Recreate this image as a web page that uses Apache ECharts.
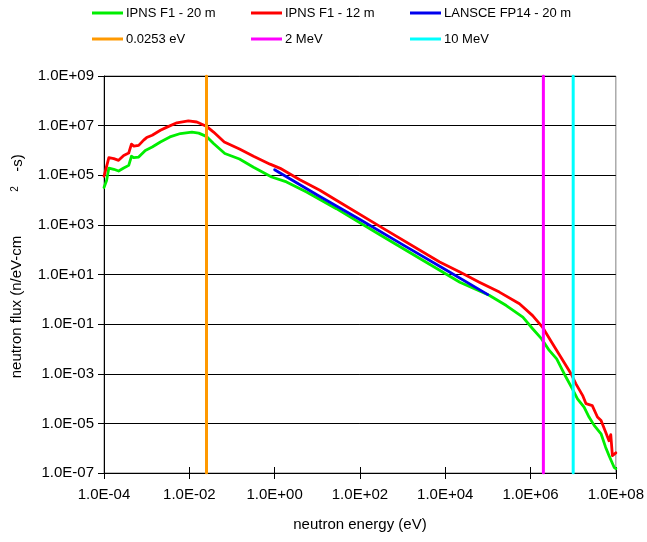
<!DOCTYPE html>
<html>
<head>
<meta charset="utf-8">
<script src="https://cdn.jsdelivr.net/npm/echarts@6/dist/echarts.min.js"></script>
<style>
html,body{margin:0;padding:0;background:#fff;}
#chart{width:647px;height:542px;}
</style>
</head>
<body>
<div id="chart"></div>
<script>
// ---- data (energy in eV, flux in n/eV-cm^2-s) ----
const seriesNames = ['IPNS F1 - 20 m', 'IPNS F1 - 12 m', 'LANSCE FP14 - 20 m', '0.0253 eV', '2 MeV', '10 MeV'];

const energyGreen = [1.0e-4, 1.15e-4, 1.3e-4, 1.7e-4, 2.2e-4, 2.9e-4, 3.8e-4, 4.4e-4, 5.0e-4, 6.5e-4, 9.3e-4, 1.35e-3, 2.1e-3, 3.5e-3, 6.2e-3, 1.15e-2, 1.66e-2, 2.5e-2, 3.7e-2, 6.8e-2, 0.15, 0.32, 0.85, 1.9, 5.6, 28, 300, 7.4e3, 2.2e4, 1.07e5, 2.7e5, 6.6e5, 1.12e6, 1.8e6, 2.75e6, 4.1e6, 6.8e6, 9.5e6, 1.26e7, 1.8e7, 2.35e7, 3.1e7, 4.5e7, 5.75e7, 6.9e7, 7.6e7, 9.1e7, 1.0e8];
const fluxGreen   = [3.2e4, 6.2e4, 1.95e5, 1.74e5, 1.48e5, 1.95e5, 2.5e5, 5.8e5, 5.1e5, 5.4e5, 1.0e6, 1.38e6, 2.2e6, 3.5e6, 4.8e6, 5.5e6, 5.0e6, 3.7e6, 1.9e6, 7.5e5, 4.5e5, 2.1e5, 8.5e4, 5.4e4, 2.1e4, 4.5e3, 390, 14.8, 4.9, 1.45, 0.56, 0.19, 0.065, 0.026, 8.7e-3, 4.0e-3, 7.2e-4, 2.5e-4, 9.8e-5, 4.5e-5, 1.8e-5, 8.3e-6, 3.8e-6, 1.1e-6, 5.1e-7, 6.0e-7, 1.7e-7, 1.5e-7];

const energyRed = [1.0e-4, 1.2e-4, 1.3e-4, 1.7e-4, 2.2e-4, 2.9e-4, 3.8e-4, 4.4e-4, 5.0e-4, 6.5e-4, 8.5e-4, 1.0e-3, 1.35e-3, 2.1e-3, 3.0e-3, 5.1e-3, 9.5e-3, 1.5e-2, 2.5e-2, 3.7e-2, 6.6e-2, 0.15, 0.32, 0.78, 1.35, 3.9, 11.5, 28, 300, 7.4e3, 2.2e4, 6.3e4, 1.86e5, 5.5e5, 1.12e6, 1.9e6, 3.1e6, 4.7e6, 8.9e6, 1.15e7, 1.66e7, 2.0e7, 2.8e7, 3.7e7, 4.5e7, 5.75e7, 6.9e7, 7.6e7, 8.3e7, 1.0e8];
const fluxRed   = [9.1e4, 3.0e5, 5.1e5, 4.7e5, 4.0e5, 6.3e5, 7.9e5, 1.8e6, 1.5e6, 1.6e6, 2.6e6, 3.3e6, 4.1e6, 6.5e6, 8.7e6, 1.3e7, 1.55e7, 1.4e7, 9.5e6, 5.5e6, 2.2e6, 1.15e6, 5.8e5, 2.8e5, 1.9e5, 6.6e4, 2.5e4, 9.8e3, 850, 32, 12.6, 4.9, 1.95, 0.66, 0.22, 0.076, 0.019, 6.0e-3, 1.0e-3, 4.0e-4, 1.35e-4, 6.2e-5, 5.2e-5, 1.8e-5, 1.3e-5, 4.5e-6, 2.0e-6, 3.5e-6, 5.0e-7, 6.5e-7];

const energyBlue = [1, 10, 100, 1e3, 1e4, 1e5];
const fluxBlue   = [1.66e5, 1.6e4, 1.65e3, 160, 16, 1.55];

const markerEnergies = [0.0253, 2e6, 1e7];
const yRange = [1e-7, 1e9];
const xRange = [1e-4, 1e8];

const colors = ['#00ee00', '#ff0000', '#0000ee', '#ff9900', '#ff00ff', '#00ffff'];

// ---- build ----
const zip = (xs, ys) => xs.map((x, i) => [x, ys[i]]);
const FONT = "'Liberation Sans', Arial, sans-serif";
function fmt(v) {
  const e = Math.round(Math.log10(v));
  const a = Math.abs(e);
  return '1.0E' + (e < 0 ? '-' : '+') + (a < 10 ? '0' : '') + a;
}

const series = [
  { name: seriesNames[0], data: zip(energyGreen, fluxGreen) },
  { name: seriesNames[1], data: zip(energyRed, fluxRed) },
  { name: seriesNames[2], data: zip(energyBlue, fluxBlue) },
  { name: seriesNames[3], data: [[markerEnergies[0], yRange[0]], [markerEnergies[0], yRange[1]]] },
  { name: seriesNames[4], data: [[markerEnergies[1], yRange[0]], [markerEnergies[1], yRange[1]]] },
  { name: seriesNames[5], data: [[markerEnergies[2], yRange[0]], [markerEnergies[2], yRange[1]]] }
].map((s, i) => ({
  name: s.name,
  type: 'line',
  data: s.data,
  symbol: 'none',
  showSymbol: false,
  silent: true,
  animation: false,
  lineStyle: { color: colors[i], width: i >= 3 ? 3 : 2.8, join: 'round', cap: 'round' },
  itemStyle: { color: colors[i] },
  z: 2 + i
}));

const legendPos = [
  [92, 6], [251, 6], [410, 6],
  [92, 32], [251, 32], [410, 32]
];
const legends = seriesNames.map((n, i) => ({
  data: [n],
  left: legendPos[i][0],
  top: legendPos[i][1],
  padding: 0,
  icon: 'rect',
  itemWidth: 31,
  itemHeight: 3,
  selectedMode: false,
  textStyle: { fontFamily: FONT, fontSize: 13, color: '#000', lineHeight: 14, padding: [0, 0, 0, -2] }
}));

const chart = echarts.init(document.getElementById('chart'), null, { renderer: 'canvas' });
chart.setOption({
  animation: false,
  backgroundColor: '#fff',
  legend: legends,
  grid: {
    left: 104, right: 30, top: 76, bottom: 69,
    show: true, borderColor: '#808080', borderWidth: 1, containLabel: false
  },
  xAxis: [{
    type: 'log', logBase: 10, min: xRange[0], max: xRange[1], interval: 2,
    name: 'neutron energy (eV)', nameLocation: 'middle', nameGap: 44,
    nameTextStyle: { fontFamily: FONT, fontSize: 15, color: '#000' },
    axisLine: { show: true, lineStyle: { color: '#000', width: 1 } },
    axisTick: { show: true, length: 6, lineStyle: { color: '#000' } },
    axisLabel: { formatter: fmt, fontFamily: FONT, fontSize: 15, color: '#000', margin: 14, showMinLabel: true, showMaxLabel: true, hideOverlap: false },
    minorTick: { show: false },
    splitLine: { show: false }
  }, {
    type: 'log', logBase: 10, min: xRange[0], max: xRange[1], interval: 2, position: 'bottom',
    axisLine: { show: false },
    axisTick: { show: true, inside: true, length: 6, lineStyle: { color: '#000' } },
    axisLabel: { show: false },
    splitLine: { show: false }
  }],
  yAxis: {
    type: 'log', logBase: 10, min: yRange[0], max: yRange[1], interval: 2,
    axisLine: { show: true, lineStyle: { color: '#000', width: 1 } },
    axisTick: { show: true, length: 6, lineStyle: { color: '#000' } },
    axisLabel: { formatter: fmt, fontFamily: FONT, fontSize: 15, color: '#000', margin: 10, showMinLabel: true, showMaxLabel: true, hideOverlap: false },
    minorTick: { show: false },
    splitLine: { show: true, lineStyle: { color: '#000', width: 1 } }
  },
  graphic: [
    { type: 'text', x: 17, y: 307, rotation: Math.PI / 2, silent: true,
      style: { text: 'neutron flux (n/eV-cm', fontFamily: FONT, fontSize: 15, fill: '#000', align: 'center', verticalAlign: 'middle' } },
    { type: 'text', x: 15, y: 189, rotation: Math.PI / 2, silent: true,
      style: { text: '2', fontFamily: FONT, fontSize: 10, fill: '#000', align: 'center', verticalAlign: 'middle' } },
    { type: 'text', x: 18, y: 163, rotation: Math.PI / 2, silent: true,
      style: { text: '-s)', fontFamily: FONT, fontSize: 15, fill: '#000', align: 'center', verticalAlign: 'middle' } }
  ],
  series: series
});
</script>
</body>
</html>
